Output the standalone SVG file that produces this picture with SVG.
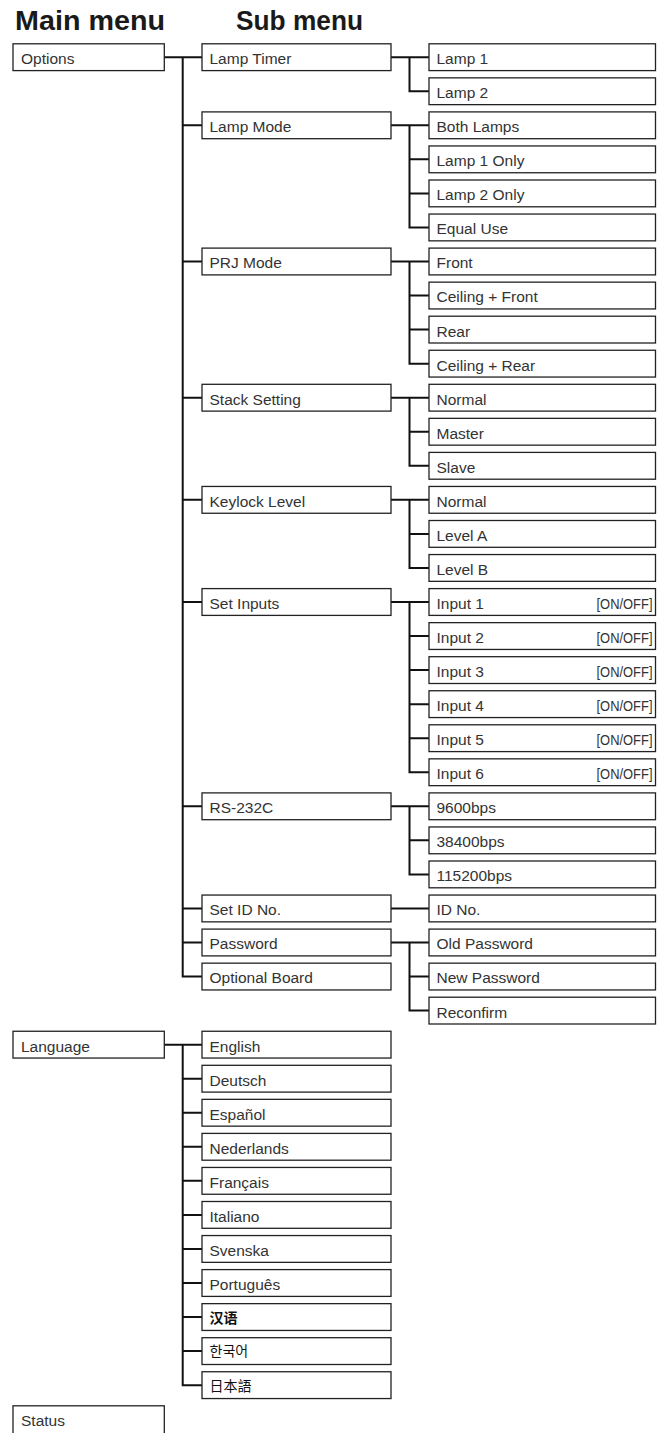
<svg xmlns="http://www.w3.org/2000/svg" width="660" height="1433" viewBox="0 0 660 1433">
<style>
.box{fill:#fff;stroke:#222;stroke-width:1.3}
.t{font-family:"Liberation Sans",Arial,sans-serif;font-size:15.5px;fill:#333}
.cjk{font-family:"Noto Sans CJK SC","Noto Sans CJK KR","Noto Sans CJK JP",sans-serif;font-size:14px;fill:#111}
.o{font-family:"Liberation Sans",Arial,sans-serif;font-size:14.5px;fill:#333}
.c{fill:none;stroke:#111;stroke-width:2}
.h{font-family:"Liberation Sans",Arial,sans-serif;font-weight:bold;font-size:27px;fill:#1a1a1a}
</style>
<rect width="660" height="1433" fill="#fff"/>
<text class="h" x="15" y="30" textLength="150" lengthAdjust="spacingAndGlyphs">Main menu</text>
<text class="h" x="236" y="30" textLength="127" lengthAdjust="spacingAndGlyphs">Sub menu</text>

<g id="connectors">
<path class="c" d="M164.3 57.2H202M182.7 57.2V976.55H202M182.7 125.3H202M182.7 261.5H202M182.7 397.7H202M182.7 499.85H202M182.7 602H202M182.7 806.3H202M182.7 908.45H202M182.7 942.5H202"/>
<path class="c" d="M391 57.2H429M409.5 57.2V91.25H429"/>
<path class="c" d="M391 125.3H429M409.5 125.3V227.45H429M409.5 159.35H429M409.5 193.4H429"/>
<path class="c" d="M391 261.5H429M409.5 261.5V363.65H429M409.5 295.55H429M409.5 329.6H429"/>
<path class="c" d="M391 397.7H429M409.5 397.7V465.8H429M409.5 431.75H429"/>
<path class="c" d="M391 499.85H429M409.5 499.85V567.95H429M409.5 533.9H429"/>
<path class="c" d="M391 602H429M409.5 602V772.25H429M409.5 636.05H429M409.5 670.1H429M409.5 704.15H429M409.5 738.2H429"/>
<path class="c" d="M391 806.3H429M409.5 806.3V874.4H429M409.5 840.35H429"/>
<path class="c" d="M391 908.45H429"/>
<path class="c" d="M391 942.5H429M409.5 942.5V1010.6H429M409.5 976.55H429"/>
<path class="c" d="M164.3 1044.65H202M182.7 1044.65V1385.15H202M182.7 1078.7H202M182.7 1112.75H202M182.7 1146.8H202M182.7 1180.85H202M182.7 1214.9H202M182.7 1248.95H202M182.7 1283H202M182.7 1317.05H202M182.7 1351.1H202"/>
</g>

<g id="n-options"><rect class="box" x="13" y="43.8" width="151.3" height="26.8"/><text class="t" x="21" y="64.1">Options</text></g>
<g id="n-language"><rect class="box" x="13" y="1031.25" width="151.3" height="26.8"/><text class="t" x="21" y="1051.55">Language</text></g>
<g id="n-status"><rect class="box" x="13" y="1405.8" width="151.3" height="32"/><text class="t" x="21" y="1426.1">Status</text></g>

<g id="n-lamp-timer"><rect class="box" x="202" y="43.8" width="189" height="26.8"/><text class="t" x="209.5" y="64.1">Lamp Timer</text></g>
<g id="n-lamp-mode"><rect class="box" x="202" y="111.9" width="189" height="26.8"/><text class="t" x="209.5" y="132.2">Lamp Mode</text></g>
<g id="n-prj-mode"><rect class="box" x="202" y="248.1" width="189" height="26.8"/><text class="t" x="209.5" y="268.4">PRJ Mode</text></g>
<g id="n-stack-setting"><rect class="box" x="202" y="384.3" width="189" height="26.8"/><text class="t" x="209.5" y="404.6">Stack Setting</text></g>
<g id="n-keylock-level"><rect class="box" x="202" y="486.45" width="189" height="26.8"/><text class="t" x="209.5" y="506.75">Keylock Level</text></g>
<g id="n-set-inputs"><rect class="box" x="202" y="588.6" width="189" height="26.8"/><text class="t" x="209.5" y="608.9">Set Inputs</text></g>
<g id="n-rs232c"><rect class="box" x="202" y="792.9" width="189" height="26.8"/><text class="t" x="209.5" y="813.2">RS-232C</text></g>
<g id="n-set-id"><rect class="box" x="202" y="895.05" width="189" height="26.8"/><text class="t" x="209.5" y="915.35">Set ID No.</text></g>
<g id="n-password"><rect class="box" x="202" y="929.1" width="189" height="26.8"/><text class="t" x="209.5" y="949.4">Password</text></g>
<g id="n-optional-board"><rect class="box" x="202" y="963.15" width="189" height="26.8"/><text class="t" x="209.5" y="983.45">Optional Board</text></g>

<g id="n-lamp1"><rect class="box" x="429" y="43.8" width="226.5" height="26.8"/><text class="t" x="436.5" y="64.1">Lamp 1</text></g>
<g id="n-lamp2"><rect class="box" x="429" y="77.85" width="226.5" height="26.8"/><text class="t" x="436.5" y="98.15">Lamp 2</text></g>
<g id="n-both-lamps"><rect class="box" x="429" y="111.9" width="226.5" height="26.8"/><text class="t" x="436.5" y="132.2">Both Lamps</text></g>
<g id="n-lamp1-only"><rect class="box" x="429" y="145.95" width="226.5" height="26.8"/><text class="t" x="436.5" y="166.25">Lamp 1 Only</text></g>
<g id="n-lamp2-only"><rect class="box" x="429" y="180" width="226.5" height="26.8"/><text class="t" x="436.5" y="200.3">Lamp 2 Only</text></g>
<g id="n-equal-use"><rect class="box" x="429" y="214.05" width="226.5" height="26.8"/><text class="t" x="436.5" y="234.35">Equal Use</text></g>
<g id="n-front"><rect class="box" x="429" y="248.1" width="226.5" height="26.8"/><text class="t" x="436.5" y="268.4">Front</text></g>
<g id="n-ceiling-front"><rect class="box" x="429" y="282.15" width="226.5" height="26.8"/><text class="t" x="436.5" y="302.45">Ceiling + Front</text></g>
<g id="n-rear"><rect class="box" x="429" y="316.2" width="226.5" height="26.8"/><text class="t" x="436.5" y="336.5">Rear</text></g>
<g id="n-ceiling-rear"><rect class="box" x="429" y="350.25" width="226.5" height="26.8"/><text class="t" x="436.5" y="370.55">Ceiling + Rear</text></g>
<g id="n-stack-normal"><rect class="box" x="429" y="384.3" width="226.5" height="26.8"/><text class="t" x="436.5" y="404.6">Normal</text></g>
<g id="n-master"><rect class="box" x="429" y="418.35" width="226.5" height="26.8"/><text class="t" x="436.5" y="438.65">Master</text></g>
<g id="n-slave"><rect class="box" x="429" y="452.4" width="226.5" height="26.8"/><text class="t" x="436.5" y="472.7">Slave</text></g>
<g id="n-key-normal"><rect class="box" x="429" y="486.45" width="226.5" height="26.8"/><text class="t" x="436.5" y="506.75">Normal</text></g>
<g id="n-level-a"><rect class="box" x="429" y="520.5" width="226.5" height="26.8"/><text class="t" x="436.5" y="540.8">Level A</text></g>
<g id="n-level-b"><rect class="box" x="429" y="554.55" width="226.5" height="26.8"/><text class="t" x="436.5" y="574.85">Level B</text></g>
<g id="n-input1"><rect class="box" x="429" y="588.6" width="226.5" height="26.8"/><text class="t" x="436.5" y="608.9">Input 1</text><text class="o" x="652.5" y="608.9" text-anchor="end" textLength="56" lengthAdjust="spacingAndGlyphs">[ON/OFF]</text></g>
<g id="n-input2"><rect class="box" x="429" y="622.65" width="226.5" height="26.8"/><text class="t" x="436.5" y="642.95">Input 2</text><text class="o" x="652.5" y="642.95" text-anchor="end" textLength="56" lengthAdjust="spacingAndGlyphs">[ON/OFF]</text></g>
<g id="n-input3"><rect class="box" x="429" y="656.7" width="226.5" height="26.8"/><text class="t" x="436.5" y="677">Input 3</text><text class="o" x="652.5" y="677" text-anchor="end" textLength="56" lengthAdjust="spacingAndGlyphs">[ON/OFF]</text></g>
<g id="n-input4"><rect class="box" x="429" y="690.75" width="226.5" height="26.8"/><text class="t" x="436.5" y="711.05">Input 4</text><text class="o" x="652.5" y="711.05" text-anchor="end" textLength="56" lengthAdjust="spacingAndGlyphs">[ON/OFF]</text></g>
<g id="n-input5"><rect class="box" x="429" y="724.8" width="226.5" height="26.8"/><text class="t" x="436.5" y="745.1">Input 5</text><text class="o" x="652.5" y="745.1" text-anchor="end" textLength="56" lengthAdjust="spacingAndGlyphs">[ON/OFF]</text></g>
<g id="n-input6"><rect class="box" x="429" y="758.85" width="226.5" height="26.8"/><text class="t" x="436.5" y="779.15">Input 6</text><text class="o" x="652.5" y="779.15" text-anchor="end" textLength="56" lengthAdjust="spacingAndGlyphs">[ON/OFF]</text></g>
<g id="n-9600"><rect class="box" x="429" y="792.9" width="226.5" height="26.8"/><text class="t" x="436.5" y="813.2">9600bps</text></g>
<g id="n-38400"><rect class="box" x="429" y="826.95" width="226.5" height="26.8"/><text class="t" x="436.5" y="847.25">38400bps</text></g>
<g id="n-115200"><rect class="box" x="429" y="861" width="226.5" height="26.8"/><text class="t" x="436.5" y="881.3">115200bps</text></g>
<g id="n-id-no"><rect class="box" x="429" y="895.05" width="226.5" height="26.8"/><text class="t" x="436.5" y="915.35">ID No.</text></g>
<g id="n-old-password"><rect class="box" x="429" y="929.1" width="226.5" height="26.8"/><text class="t" x="436.5" y="949.4">Old Password</text></g>
<g id="n-new-password"><rect class="box" x="429" y="963.15" width="226.5" height="26.8"/><text class="t" x="436.5" y="983.45">New Password</text></g>
<g id="n-reconfirm"><rect class="box" x="429" y="997.2" width="226.5" height="26.8"/><text class="t" x="436.5" y="1017.5">Reconfirm</text></g>

<g id="n-english"><rect class="box" x="202" y="1031.25" width="189" height="26.8"/><text class="t" x="209.5" y="1051.55">English</text></g>
<g id="n-deutsch"><rect class="box" x="202" y="1065.3" width="189" height="26.8"/><text class="t" x="209.5" y="1085.6">Deutsch</text></g>
<g id="n-espanol"><rect class="box" x="202" y="1099.35" width="189" height="26.8"/><text class="t" x="209.5" y="1119.65">Español</text></g>
<g id="n-nederlands"><rect class="box" x="202" y="1133.4" width="189" height="26.8"/><text class="t" x="209.5" y="1153.7">Nederlands</text></g>
<g id="n-francais"><rect class="box" x="202" y="1167.45" width="189" height="26.8"/><text class="t" x="209.5" y="1187.75">Français</text></g>
<g id="n-italiano"><rect class="box" x="202" y="1201.5" width="189" height="26.8"/><text class="t" x="209.5" y="1221.8">Italiano</text></g>
<g id="n-svenska"><rect class="box" x="202" y="1235.55" width="189" height="26.8"/><text class="t" x="209.5" y="1255.85">Svenska</text></g>
<g id="n-portugues"><rect class="box" x="202" y="1269.6" width="189" height="26.8"/><text class="t" x="209.5" y="1289.9">Português</text></g>
<g id="n-chinese"><rect class="box" x="202" y="1303.65" width="189" height="26.8"/><text class="cjk" x="209.5" y="1322.5" font-weight="bold">汉语</text></g>
<g id="n-korean"><rect class="box" x="202" y="1337.7" width="189" height="26.8"/><text class="cjk" x="209.5" y="1356.3" font-size="12.5">한국어</text></g>
<g id="n-japanese"><rect class="box" x="202" y="1371.75" width="189" height="26.8"/><text class="cjk" x="209.5" y="1390.8" font-size="15">日本語</text></g>
</svg>
